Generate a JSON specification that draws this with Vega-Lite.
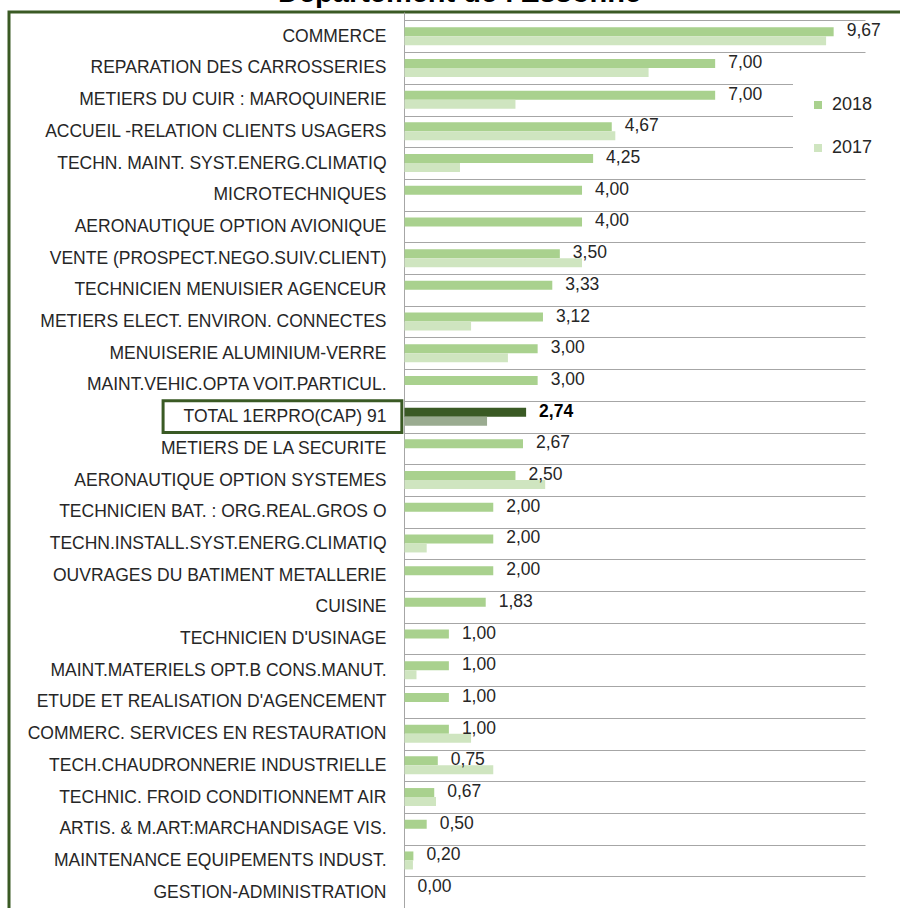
{
  "$schema": "https://vega.github.io/schema/vega-lite/v6.json",
  "width": 891,
  "height": 896,
  "autosize": {"type": "none"},
  "padding": {"left": 9, "top": 12, "right": 0, "bottom": 0},
  "background": "white",
  "title": {
    "text": "Département de l'Essonne",
    "font": "Liberation Sans",
    "fontSize": 29,
    "fontWeight": "bold",
    "color": "#000000",
    "anchor": "middle",
    "frame": "group",
    "baseline": "alphabetic",
    "offset": 0,
    "dx": 5,
    "dy": 28
  },
  "datasets": {
    "rows": [
      {"category": "COMMERCE", "year": "2018", "value": 9.67},
      {"category": "COMMERCE", "year": "2017", "value": 9.5},
      {"category": "REPARATION DES CARROSSERIES", "year": "2018", "value": 7.00},
      {"category": "REPARATION DES CARROSSERIES", "year": "2017", "value": 5.5},
      {"category": "METIERS DU CUIR : MAROQUINERIE", "year": "2018", "value": 7.00},
      {"category": "METIERS DU CUIR : MAROQUINERIE", "year": "2017", "value": 2.5},
      {"category": "ACCUEIL -RELATION CLIENTS USAGERS", "year": "2018", "value": 4.67},
      {"category": "ACCUEIL -RELATION CLIENTS USAGERS", "year": "2017", "value": 4.75},
      {"category": "TECHN. MAINT. SYST.ENERG.CLIMATIQ", "year": "2018", "value": 4.25},
      {"category": "TECHN. MAINT. SYST.ENERG.CLIMATIQ", "year": "2017", "value": 1.25},
      {"category": "MICROTECHNIQUES", "year": "2018", "value": 4.00},
      {"category": "MICROTECHNIQUES", "year": "2017", "value": null},
      {"category": "AERONAUTIQUE OPTION AVIONIQUE", "year": "2018", "value": 4.00},
      {"category": "AERONAUTIQUE OPTION AVIONIQUE", "year": "2017", "value": null},
      {"category": "VENTE (PROSPECT.NEGO.SUIV.CLIENT)", "year": "2018", "value": 3.50},
      {"category": "VENTE (PROSPECT.NEGO.SUIV.CLIENT)", "year": "2017", "value": 4.0},
      {"category": "TECHNICIEN MENUISIER AGENCEUR", "year": "2018", "value": 3.33},
      {"category": "TECHNICIEN MENUISIER AGENCEUR", "year": "2017", "value": null},
      {"category": "METIERS ELECT. ENVIRON. CONNECTES", "year": "2018", "value": 3.12},
      {"category": "METIERS ELECT. ENVIRON. CONNECTES", "year": "2017", "value": 1.5},
      {"category": "MENUISERIE ALUMINIUM-VERRE", "year": "2018", "value": 3.00},
      {"category": "MENUISERIE ALUMINIUM-VERRE", "year": "2017", "value": 2.33},
      {"category": "MAINT.VEHIC.OPTA VOIT.PARTICUL.", "year": "2018", "value": 3.00},
      {"category": "MAINT.VEHIC.OPTA VOIT.PARTICUL.", "year": "2017", "value": null},
      {"category": "TOTAL 1ERPRO(CAP) 91", "year": "2018", "value": 2.74},
      {"category": "TOTAL 1ERPRO(CAP) 91", "year": "2017", "value": 1.86},
      {"category": "METIERS DE LA SECURITE", "year": "2018", "value": 2.67},
      {"category": "METIERS DE LA SECURITE", "year": "2017", "value": null},
      {"category": "AERONAUTIQUE OPTION SYSTEMES", "year": "2018", "value": 2.50},
      {"category": "AERONAUTIQUE OPTION SYSTEMES", "year": "2017", "value": 3.17},
      {"category": "TECHNICIEN BAT. : ORG.REAL.GROS O", "year": "2018", "value": 2.00},
      {"category": "TECHNICIEN BAT. : ORG.REAL.GROS O", "year": "2017", "value": null},
      {"category": "TECHN.INSTALL.SYST.ENERG.CLIMATIQ", "year": "2018", "value": 2.00},
      {"category": "TECHN.INSTALL.SYST.ENERG.CLIMATIQ", "year": "2017", "value": 0.5},
      {"category": "OUVRAGES DU BATIMENT METALLERIE", "year": "2018", "value": 2.00},
      {"category": "OUVRAGES DU BATIMENT METALLERIE", "year": "2017", "value": null},
      {"category": "CUISINE", "year": "2018", "value": 1.83},
      {"category": "CUISINE", "year": "2017", "value": null},
      {"category": "TECHNICIEN D'USINAGE", "year": "2018", "value": 1.00},
      {"category": "TECHNICIEN D'USINAGE", "year": "2017", "value": null},
      {"category": "MAINT.MATERIELS OPT.B CONS.MANUT.", "year": "2018", "value": 1.00},
      {"category": "MAINT.MATERIELS OPT.B CONS.MANUT.", "year": "2017", "value": 0.27},
      {"category": "ETUDE ET REALISATION D'AGENCEMENT", "year": "2018", "value": 1.00},
      {"category": "ETUDE ET REALISATION D'AGENCEMENT", "year": "2017", "value": null},
      {"category": "COMMERC. SERVICES EN RESTAURATION", "year": "2018", "value": 1.00},
      {"category": "COMMERC. SERVICES EN RESTAURATION", "year": "2017", "value": 1.5},
      {"category": "TECH.CHAUDRONNERIE INDUSTRIELLE", "year": "2018", "value": 0.75},
      {"category": "TECH.CHAUDRONNERIE INDUSTRIELLE", "year": "2017", "value": 2.0},
      {"category": "TECHNIC. FROID CONDITIONNEMT AIR", "year": "2018", "value": 0.67},
      {"category": "TECHNIC. FROID CONDITIONNEMT AIR", "year": "2017", "value": 0.71},
      {"category": "ARTIS. & M.ART:MARCHANDISAGE VIS.", "year": "2018", "value": 0.50},
      {"category": "ARTIS. & M.ART:MARCHANDISAGE VIS.", "year": "2017", "value": null},
      {"category": "MAINTENANCE EQUIPEMENTS INDUST.", "year": "2018", "value": 0.20},
      {"category": "MAINTENANCE EQUIPEMENTS INDUST.", "year": "2017", "value": 0.19},
      {"category": "GESTION-ADMINISTRATION", "year": "2018", "value": 0.00},
      {"category": "GESTION-ADMINISTRATION", "year": "2017", "value": null}
    ]
  },
  "data": {"name": "rows"},
  "encoding": {
    "y": {
      "field": "category",
      "type": "nominal",
      "scale": {
        "domain": ["COMMERCE", "REPARATION DES CARROSSERIES", "METIERS DU CUIR : MAROQUINERIE", "ACCUEIL -RELATION CLIENTS USAGERS", "TECHN. MAINT. SYST.ENERG.CLIMATIQ", "MICROTECHNIQUES", "AERONAUTIQUE OPTION AVIONIQUE", "VENTE (PROSPECT.NEGO.SUIV.CLIENT)", "TECHNICIEN MENUISIER AGENCEUR", "METIERS ELECT. ENVIRON. CONNECTES", "MENUISERIE ALUMINIUM-VERRE", "MAINT.VEHIC.OPTA VOIT.PARTICUL.", "TOTAL 1ERPRO(CAP) 91", "METIERS DE LA SECURITE", "AERONAUTIQUE OPTION SYSTEMES", "TECHNICIEN BAT. : ORG.REAL.GROS O", "TECHN.INSTALL.SYST.ENERG.CLIMATIQ", "OUVRAGES DU BATIMENT METALLERIE", "CUISINE", "TECHNICIEN D'USINAGE", "MAINT.MATERIELS OPT.B CONS.MANUT.", "ETUDE ET REALISATION D'AGENCEMENT", "COMMERC. SERVICES EN RESTAURATION", "TECH.CHAUDRONNERIE INDUSTRIELLE", "TECHNIC. FROID CONDITIONNEMT AIR", "ARTIS. & M.ART:MARCHANDISAGE VIS.", "MAINTENANCE EQUIPEMENTS INDUST.", "GESTION-ADMINISTRATION"],
        "paddingInner": 0,
        "paddingOuter": 0.1325,
        "align": 1
      },
      "axis": {
        "title": null,
        "offset": -395,
        "tickBand": "extent",
        "tickSize": -461,
        "tickColor": "#a6a6a6",
        "tickWidth": 1,
        "domainColor": "#a6a6a6",
        "labelPadding": 479,
        "labelLimit": 0,
        "labelFont": "Liberation Sans",
        "labelFontSize": 17.5,
        "labelColor": "#262626",
        "grid": false
      }
    }
  },
  "layer": [
    {
      "mark": {"type": "bar"},
      "encoding": {
        "x": {"field": "value", "type": "quantitative", "scale": {"domain": [-8.912, 11.165], "nice": false, "zero": false}, "axis": null},
        "x2": {"datum": 0},
        "yOffset": {"field": "year", "type": "nominal", "sort": ["2018", "2017"], "scale": {"domain": ["2018", "2017"], "paddingOuter": 0.761, "paddingInner": 0}},
        "color": {
          "condition": [
            {"test": "datum.category === 'TOTAL 1ERPRO(CAP) 91' && datum.year === '2018'", "value": "#3a5a24"},
            {"test": "datum.category === 'TOTAL 1ERPRO(CAP) 91' && datum.year === '2017'", "value": "#9aab90"}
          ],
          "field": "year",
          "type": "nominal",
          "scale": {"domain": ["2018", "2017"], "range": ["#a9d18e", "#cfe5c0"]},
          "legend": {
            "title": null,
            "orient": "none",
            "legendX": 784,
            "legendY": 68,
            "padding": 16,
            "fillColor": "white",
            "symbolType": "square",
            "symbolSize": 64,
            "symbolStrokeWidth": 0,
            "labelFont": "Liberation Sans",
            "labelFontSize": 18,
            "labelColor": "#262626",
            "labelOffset": 5,
            "rowPadding": 25
          }
        }
      }
    },
    {
      "transform": [{"filter": "datum.category === 'TOTAL 1ERPRO(CAP) 91' && datum.year === '2018'"}],
      "mark": {"type": "rect", "filled": false, "stroke": "#3a5a24", "strokeWidth": 3},
      "encoding": {
        "x": {"datum": -5.44, "type": "quantitative"},
        "x2": {"datum": -0.06}
      }
    },
    {
      "transform": [{"filter": "datum.year === '2018' && datum.category !== 'TOTAL 1ERPRO(CAP) 91'"}],
      "mark": {"type": "text", "align": "left", "baseline": "middle", "dx": 13, "dy": -5, "font": "Liberation Sans", "fontSize": 17.5, "color": "#262626"},
      "encoding": {
        "x": {"field": "value", "type": "quantitative"},
        "text": {"field": "value", "type": "quantitative", "format": ".2f"}
      }
    },
    {
      "transform": [{"filter": "datum.year === '2018' && datum.category === 'TOTAL 1ERPRO(CAP) 91'"}],
      "mark": {"type": "text", "align": "left", "baseline": "middle", "dx": 13, "dy": -5, "font": "Liberation Sans", "fontSize": 17.5, "fontWeight": "bold", "color": "#000000"},
      "encoding": {
        "x": {"field": "value", "type": "quantitative"},
        "text": {"field": "value", "type": "quantitative", "format": ".2f"}
      }
    }
  ],
  "config": {
    "locale": {"number": {"decimal": ",", "thousands": " ", "grouping": [3], "currency": ["", " €"]}},
    "view": {"stroke": "#3a5a24", "strokeWidth": 3, "strokeDash": [891, 1787, 896]},
    "font": "Liberation Sans"
  }
}
